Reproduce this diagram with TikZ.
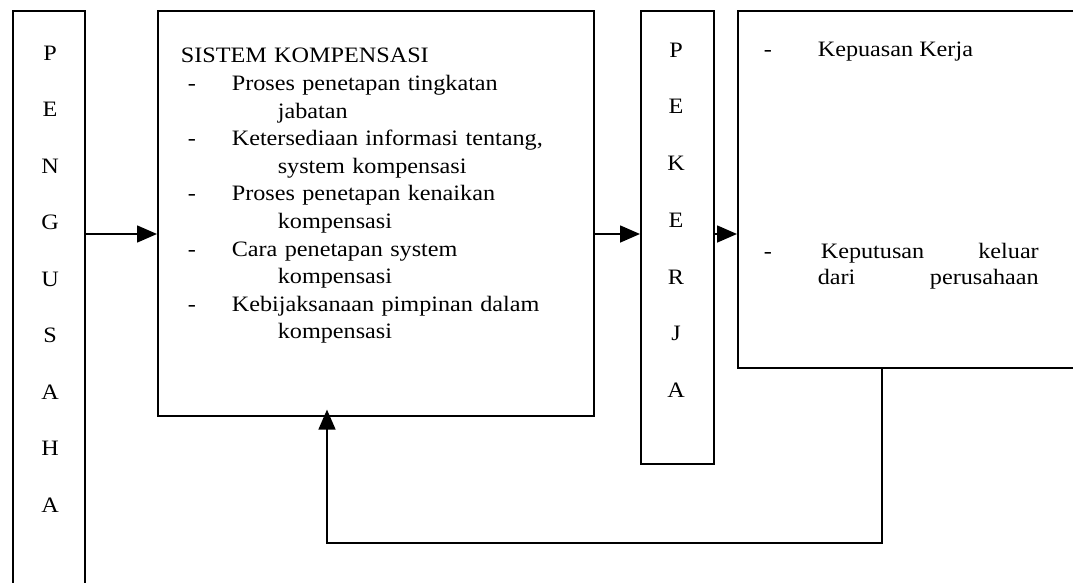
\documentclass[tikz,border=0pt]{standalone}
\usepackage{fontspec}
\setmainfont{Liberation Serif}[FakeStretch=1.1]
\usepackage{tikz}
\usetikzlibrary{positioning}
\usetikzlibrary{arrows.meta}

\newcommand{\kompitem}[1]{\hspace*{7pt}\makebox[44pt][l]{-}#1}
\newcommand{\kompcont}[1]{\hspace*{97pt}#1}

\begin{document}
\begin{tikzpicture}[x=1pt, y=-1pt, line width=1.6pt,
        >={Triangle[length=20pt,width=17pt]},
        box/.style={draw, rectangle, inner sep=0pt, anchor=north west},
        letter/.style={font=\fontsize{22}{22}\selectfont, inner sep=0pt},
        txt/.style={font=\fontsize{22}{27.6}\selectfont, inner sep=0pt,
            anchor=base west, align=left}]
    \useasboundingbox (0,0) rectangle (1073,583);
    \clip (0,0) rectangle (1073,583);

    \node [box, minimum width=72pt, minimum height=600pt] (pengusaha) at (12,10) {};
    \node [box, minimum width=436pt, minimum height=405pt] (sistem) at (157,10) {};
    \node [box, minimum width=73pt, minimum height=453pt] (pekerja) at (640,10) {};
    \node [box, minimum width=360pt, minimum height=357pt] (hasil) at (737,10) {};

    \foreach \l [count=\i] in {P,E,N,G,U,S,A,H,A}
        \node [letter] (pu\i) at (50, -3.5+56.5*\i) {\l};
    \foreach \l [count=\i] in {P,E,K,E,R,J,A}
        \node [letter] (pk\i) at (676, -6.7+56.7*\i) {\l};

    \node [txt, text width=400pt] (komp) at (180,63) {SISTEM KOMPENSASI\\
        \kompitem{Proses penetapan tingkatan}\\
        \kompcont{jabatan}\\
        \kompitem{Ketersediaan informasi tentang,}\\
        \kompcont{system kompensasi}\\
        \kompitem{Proses penetapan kenaikan}\\
        \kompcont{kompensasi}\\
        \kompitem{Cara penetapan system}\\
        \kompcont{kompensasi}\\
        \kompitem{Kebijaksanaan pimpinan dalam}\\
        \kompcont{kompensasi}};

    \node [txt] (kepuasan) at (763,57) {\makebox[54pt][l]{-}Kepuasan Kerja};
    \node [txt] (keluardash) at (763,258) {-};
    \node [txt, text width=221pt, font=\fontsize{22}{26}\selectfont] (keluar) at (817,258)
        {\hspace*{3pt}Keputusan\hfill keluar\\ dari\hfill perusahaan};

    \coordinate (flow) at (0,234);
    \coordinate (fbturn) at (882,543);
    \coordinate (fbback) at (327,543);

    \draw [->] (pengusaha.east |- flow) -- (sistem.west |- flow);
    \draw [->] (sistem.east |- flow) -- (pekerja.west |- flow);
    \draw [->] (pekerja.east |- flow) -- (hasil.west |- flow);
    \draw [->, shorten >=-7pt] (hasil.south -| fbturn) -- (fbturn) -- (fbback)
        -- (sistem.south -| fbback);
\end{tikzpicture}
\end{document}
